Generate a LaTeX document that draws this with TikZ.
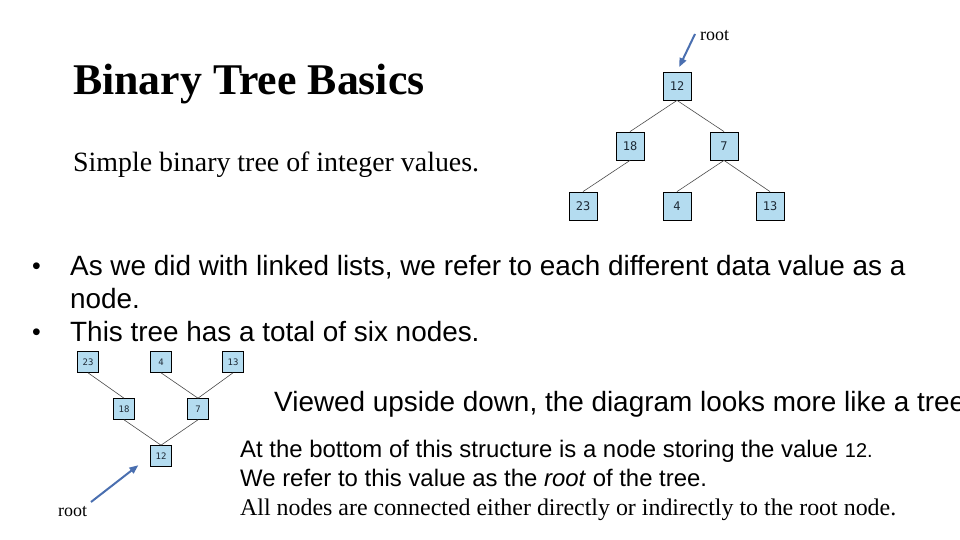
\documentclass[tikz,border=0pt]{standalone}
\usepackage{fontspec}
\setmainfont{Liberation Serif}
\setsansfont{Liberation Sans}
\newfontfamily\digitfont{DejaVu Sans Mono}
\usetikzlibrary{arrows.meta}
\definecolor{cellblue}{HTML}{B4DCF0}
\definecolor{ink}{HTML}{1E2A36}
\definecolor{edge}{HTML}{4A4A4A}
\definecolor{pointer}{HTML}{4A6FB0}

\begin{document}
\begin{tikzpicture}[x=1bp,y=-1bp,
 cell/.style={draw=black,fill=cellblue,line width=.8bp,minimum size=28bp,inner sep=0pt,text=ink,font=\digitfont\fontsize{12}{13}\selectfont},
 small/.style={cell,minimum size=21bp,line width=.6bp,font=\digitfont\fontsize{9}{10}\selectfont},
 link/.style={draw=edge,line width=.6bp},
 arrowptr/.style={-{Triangle[length=9bp,width=7bp]},draw=pointer,fill=pointer,line width=2bp},
 txt/.style={anchor=base west,inner sep=0pt},
 body/.style={txt,font=\sffamily\fontsize{28}{33}\selectfont},
 bullet/.style={txt,font=\sffamily\fontsize{25}{28}\selectfont},
 note/.style={txt,font=\sffamily\fontsize{24}{29}\selectfont},
 rootlbl/.style={txt,font=\rmfamily\fontsize{18}{20}\selectfont}]
\clip (0,0) rectangle (960,540);

\node[txt,font=\rmfamily\bfseries\fontsize{44}{48}\selectfont] (title) at (73,95) {Binary Tree Basics};
\node[txt,font=\rmfamily\fontsize{28}{32}\selectfont] (subtitle) at (73,172) {Simple binary tree of integer values.};

% Tree as usually drawn, root on top.
\foreach \name/\val/\x/\y in {r/12/677/86,a/18/630/146,b/7/724/146,c/23/583/206,d/4/677/206,e/13/770/206}
 \node[cell] (t\name) at (\x,\y) {\val};
\foreach \p/\c in {r/a,r/b,a/c,b/d,b/e}
 \draw[link] (t\p.south)--(t\c.north);
\coordinate (ttail) at (695,34);
\draw[arrowptr,shorten >=5bp] (ttail)--(tr.north);
\node[rootlbl] (troot) at (700,41) {root};

\node[bullet] (dot1) at (32,275) {•};
\node[body] (line1) at (70,276) {As we did with linked lists, we refer to each different data value as a};
\node[body] (line2) at (70,309) {node.};
\node[bullet] (dot2) at (32,341) {•};
\node[body] (line3) at (70,342) {This tree has a total of six nodes.};

% Same tree turned over, root at the bottom.
\foreach \name/\val/\x/\y in {u/12/161/456,a/18/124/409,b/7/198/409,c/23/88/362,d/4/161/362,e/13/233/362}
 \node[small] (l\name) at (\x,\y) {\val};
\foreach \c/\p in {c/a,d/b,e/b,a/u,b/u}
 \draw[link] (l\c.south)--(l\p.north);
\coordinate (ltail) at (91,502);
\draw[arrowptr,shorten >=15bp] (ltail)--(lu.west);
\node[rootlbl] (lroot) at (58,516) {root};

\node[body] (view) at (274,411) {Viewed upside down, the diagram looks more like a tree};
\node[note] (note1) at (240,457) {At the bottom of this structure is a node storing the value {\fontsize{20}{24}\selectfont 12.}};
\node[note] (note2) at (240,486) {We refer to this value as the \textit{root} of the tree.};
\node[txt,font=\rmfamily\fontsize{24}{28}\selectfont] (note3) at (240,515) {All nodes are connected either directly or indirectly to the root node.};
\end{tikzpicture}
\end{document}
